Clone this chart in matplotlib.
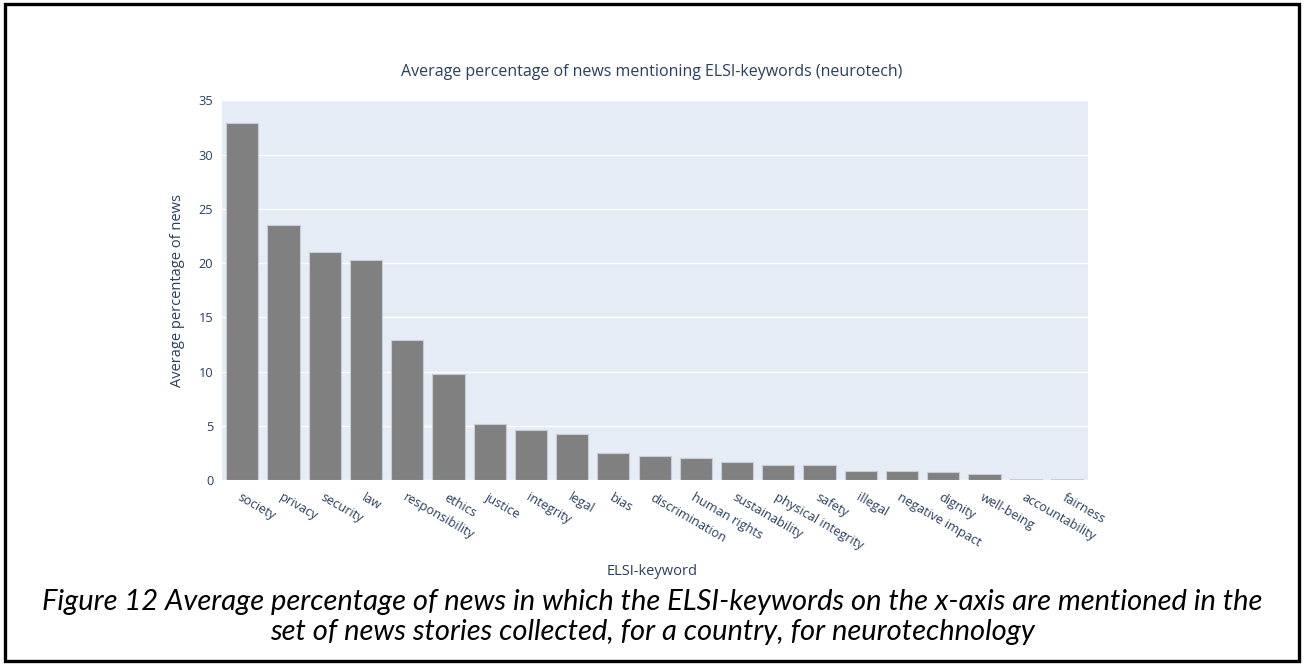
import matplotlib.pyplot as plt
from matplotlib.patches import Rectangle

keywords = ['society', 'privacy', 'security', 'law', 'responsibility', 'ethics',
            'justice', 'integrity', 'legal', 'bias', 'discrimination',
            'human rights', 'sustainability', 'physical integrity', 'safety',
            'illegal', 'negative impact', 'dignity', 'well-being',
            'accountability', 'fairness']
avg_pct = [32.9, 23.5, 21.0, 20.3, 12.9, 9.75, 5.15, 4.65, 4.25, 2.45, 2.2,
           2.05, 1.65, 1.4, 1.35, 0.88, 0.86, 0.72, 0.6, 0.08, 0.08]
y_ticks = [0, 5, 10, 15, 20, 25, 30, 35]

title = 'Average percentage of news mentioning ELSI-keywords (neurotech)'
caption = ('Figure 12 Average percentage of news in which the ELSI-keywords on the x-axis are mentioned in the\n'
           'set of news stories collected, for a country, for neurotechnology')

txt = '#2a3f5f'
plt.rcParams['font.family'] = ['Open Sans', 'DejaVu Sans']

fig = plt.figure(figsize=(13.04, 6.64), dpi=100)
ax = fig.add_axes([0.170, 0.277, 0.664, 0.572])
ax.set_facecolor('#E5ECF6')

x = list(range(len(keywords)))
ax.bar(x, avg_pct, width=0.78, color='#808080', edgecolor='#c8ccd4', linewidth=0.8, zorder=3)

ax.set_xlim(-0.5, len(keywords) - 0.5)
ax.set_ylim(0, 35)
ax.set_yticks(y_ticks)
ax.set_yticklabels([str(t) for t in y_ticks])
ax.grid(axis='y', color='white', linewidth=1.0, zorder=0)
ax.set_axisbelow(True)
for s in ax.spines.values():
    s.set_visible(False)
ax.tick_params(axis='both', length=0, colors=txt, labelsize=9.2)
ax.tick_params(axis='y', pad=6)
ax.tick_params(axis='x', pad=8)

ax.set_xticks(x)
ax.set_xticklabels(keywords, rotation=-30, ha='left', va='top', rotation_mode='anchor')
for lab in ax.get_xticklabels():
    lab.set_color(txt)

ax.set_ylabel('Average percentage of news', color=txt, fontsize=10.5, labelpad=10)
fig.text(0.5, 0.14, 'ELSI-keyword', color=txt, fontsize=10.5, ha='center', va='center')
fig.text(0.5, 0.892, title, color=txt, fontsize=11.5, ha='center', va='center')

fig.text(0.5, 0.071, caption, family=['Lato', 'DejaVu Sans'], color='black', fontsize=21,
         style='italic', ha='center', va='center', linespacing=1.2)

fig.patches.append(Rectangle((0.004, 0.004), 0.992, 0.99, transform=fig.transFigure,
                             fill=False, edgecolor='black', linewidth=2.4))

fig.savefig('out.png', dpi=100, facecolor='white')
